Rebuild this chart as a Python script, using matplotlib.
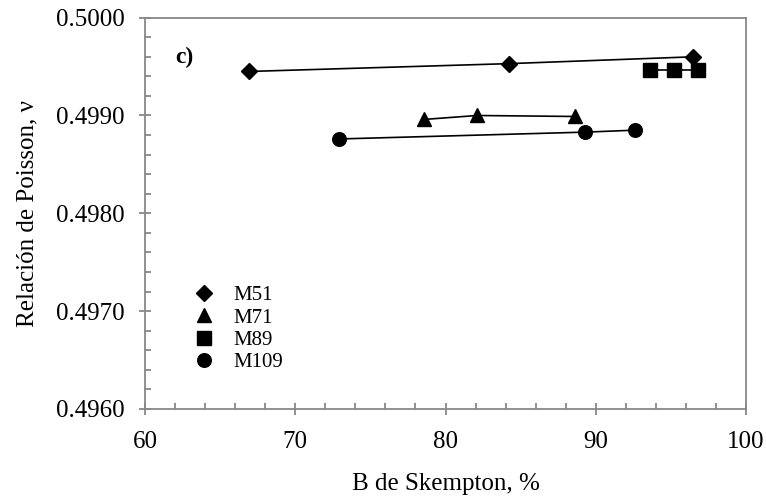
import numpy as np
import matplotlib.pyplot as plt
from matplotlib.ticker import MultipleLocator, FormatStrFormatter

# data
m51_x = [66.9, 84.2, 96.5]
m51_y = [0.49945, 0.49953, 0.49960]
m71_x = [78.6, 82.1, 88.6]
m71_y = [0.49896, 0.49900, 0.49899]
m89_x = [93.6, 95.2, 96.8]
m89_y = [0.49946, 0.49946, 0.49946]
m109_x = [72.9, 89.3, 92.6]
m109_y = [0.49876, 0.49883, 0.49885]

plt.rcParams['font.family'] = ['Liberation Serif', 'DejaVu Serif']
grey = "#888888"

fig = plt.figure(figsize=(7.66, 4.99), dpi=100)
ax = fig.add_axes([0.1893, 0.1804, 0.7846, 0.7842])

ax.plot(m51_x, m51_y, color="black", lw=1.2, marker="D", ms=8, label="M51")
ax.plot(m71_x, m71_y, color="black", lw=1.2, marker="^", ms=10.3, label="M71")
ax.plot(m89_x, m89_y, color="black", lw=1.2, marker="s", ms=10, label="M89")
ax.plot(m109_x, m109_y, color="black", lw=1.2, marker="o", ms=9.8, label="M109")

ax.set_xlim(60, 100)
ax.set_ylim(0.4960, 0.5000)
ax.xaxis.set_major_locator(MultipleLocator(10))
ax.xaxis.set_minor_locator(MultipleLocator(2))
ax.yaxis.set_major_locator(MultipleLocator(0.001))
ax.yaxis.set_minor_locator(MultipleLocator(0.0002))
ax.yaxis.set_major_formatter(FormatStrFormatter("%.4f"))

for s in ax.spines.values():
    s.set_color(grey)
    s.set_linewidth(1.3)
ax.tick_params(which="major", direction="inout", length=9, width=1.3, color=grey,
               labelsize=18)
ax.tick_params(axis="x", which="major", pad=11.5)
ax.tick_params(axis="y", which="major", pad=10)
ax.tick_params(which="minor", direction="in", length=4, width=1.3, color=grey)

ax.set_xlabel("B de Skempton, %", fontsize=18, labelpad=14.5)
ax.set_ylabel("Relación de Poisson, ν", fontsize=18, labelpad=12.5)

ax.text(0.05, 0.925, "c)", transform=ax.transAxes, fontsize=17, fontweight="bold",
        va="top")

leg = ax.legend(loc="lower left", bbox_to_anchor=(0.08, 0.067), frameon=False,
                fontsize=15, handlelength=0.0, handletextpad=1.45,
                labelspacing=0.13, borderpad=0)
for h in leg.legend_handles:
    h.set_linestyle("none")

plt.savefig("out.png", dpi=100)
